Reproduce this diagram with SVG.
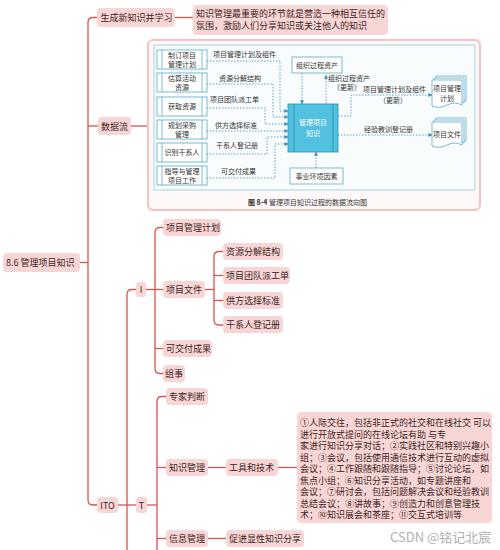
<svg xmlns="http://www.w3.org/2000/svg" width="500" height="550" viewBox="0 0 500 550">
<defs>
<style>
.n{fill:#f9d6d6;}
.t{font-family:"Noto Sans CJK SC","Noto Sans",sans-serif;font-size:9px;fill:#3b2424;}
.c{fill:none;stroke:#d9534f;stroke-width:1.3;}
.fb{fill:#fff;stroke:#5aaac8;stroke-width:0.8;}
.fl{stroke:#5aaac8;stroke-width:0.8;}
.ft{font-family:"Noto Sans CJK SC","Noto Sans",sans-serif;font-size:7px;fill:#333;}
.fm{text-anchor:middle;}
.d{fill:none;stroke:#3d8dbd;stroke-width:0.8;stroke-dasharray:1.5 1.5;}
.doc{fill:#fff;stroke:#5aaac8;stroke-width:0.8;}
</style>
<marker id="ah" viewBox="0 0 6 6" refX="5.5" refY="3" markerWidth="4" markerHeight="4" orient="auto" markerUnits="userSpaceOnUse">
<path d="M0,0 L6,3 L0,6 z" fill="#3d8dbd"/>
</marker>
</defs>
<rect width="500" height="550" fill="#fff"/>

<g id="connectors">
<path class="c" d="M80 262.5 H88"/>
<path class="c" d="M97 17.5 H93 Q88 17.5 88 22.5 V500 Q88 505 93 505 H97"/>
<path class="c" d="M88 126 H98"/>
<path class="c" d="M175 17.5 H193"/>
<path class="c" d="M131 126 H148"/>
<path class="c" d="M118 505 H136"/>
<path class="c" d="M136 289.5 H132 Q127 289.5 127 294.5 V550"/>
<path class="c" d="M146 289.5 H163"/>
<path class="c" d="M163 227.5 H160 Q155 227.5 155 232.5 V368.5 Q155 373.5 160 373.5 H163"/>
<path class="c" d="M155 348.5 H163"/>
<path class="c" d="M205 289.5 H214"/>
<path class="c" d="M223 251.5 H219 Q214 251.5 214 256.5 V320 Q214 325 219 325 H223"/>
<path class="c" d="M214 275.5 H223"/>
<path class="c" d="M214 300.5 H223"/>
<path class="c" d="M147 505 H157"/>
<path class="c" d="M166 396.5 H162 Q157 396.5 157 401.5 V550"/>
<path class="c" d="M157 467.5 H166"/>
<path class="c" d="M157 538.5 H166"/>
<path class="c" d="M208 467.5 H226"/>
<path class="c" d="M278 467.5 H297"/>
<path class="c" d="M208 538.5 H226"/>
</g>

<g id="root"><rect class="n" x="3" y="253" width="77" height="19" rx="4"/><text class="t" x="6" y="266">8.6 管理项目知识</text></g>
<g id="n-learn"><rect class="n" x="97" y="8" width="78" height="19" rx="4"/><text class="t" x="100.5" y="21">生成新知识并学习</text></g>
<g id="n-learn-note"><rect class="n" x="193" y="5" width="195" height="30" rx="4"/>
<text class="t" x="196" y="17">知识管理最重要的环节就是营造一种相互信任的</text>
<text class="t" x="196" y="29">氛围，激励人们分享知识或关注他人的知识</text></g>
<g id="n-dataflow"><rect class="n" x="98" y="117" width="33" height="18" rx="4"/><text class="t" x="101" y="129.5">数据流</text></g>

<g id="figure">
<rect x="148" y="40" width="332" height="170" rx="5" fill="#fff8f8" stroke="#f4c2c2" stroke-width="2"/>
<rect x="154" y="45" width="321" height="145" fill="#f8fcfd" stroke="#8cc8d8" stroke-width="0.8"/>
<g id="f-box1"><rect class="fb" x="157" y="50" width="50" height="19"/><line class="fl" x1="162" y1="50" x2="162" y2="69"/><line class="fl" x1="202" y1="50" x2="202" y2="69"/><text class="ft fm" x="182" y="58">制订项目</text><text class="ft fm" x="182" y="67">管理计划</text></g>
<g id="f-box2"><rect class="fb" x="157" y="73" width="50" height="19"/><line class="fl" x1="162" y1="73" x2="162" y2="92"/><line class="fl" x1="202" y1="73" x2="202" y2="92"/><text class="ft fm" x="182" y="81">估算活动</text><text class="ft fm" x="182" y="90">资源</text></g>
<g id="f-box3"><rect class="fb" x="157" y="97" width="50" height="19"/><line class="fl" x1="162" y1="97" x2="162" y2="116"/><line class="fl" x1="202" y1="97" x2="202" y2="116"/><text class="ft fm" x="182" y="109">获取资源</text></g>
<g id="f-box4"><rect class="fb" x="157" y="120" width="50" height="19"/><line class="fl" x1="162" y1="120" x2="162" y2="139"/><line class="fl" x1="202" y1="120" x2="202" y2="139"/><text class="ft fm" x="182" y="128">规划采购</text><text class="ft fm" x="182" y="137">管理</text></g>
<g id="f-box5"><rect class="fb" x="157" y="143" width="50" height="19"/><line class="fl" x1="162" y1="143" x2="162" y2="162"/><line class="fl" x1="202" y1="143" x2="202" y2="162"/><text class="ft fm" x="182" y="155">识别干系人</text></g>
<g id="f-box6"><rect class="fb" x="157" y="166" width="50" height="19"/><line class="fl" x1="162" y1="166" x2="162" y2="185"/><line class="fl" x1="202" y1="166" x2="202" y2="185"/><text class="ft fm" x="182" y="174">指导与管理</text><text class="ft fm" x="182" y="183">项目工作</text></g>

<g id="f-opa"><rect class="fb" x="292" y="57" width="50" height="16"/><text class="ft fm" x="317" y="67.5">组织过程资产</text></g>
<g id="f-eef"><rect class="fb" x="290" y="168" width="53" height="16"/><text class="ft fm" x="316.5" y="178.5">事业环境因素</text></g>
<g id="f-center"><rect x="288" y="104" width="50" height="48" fill="#52c0df" stroke="#2b8db3" stroke-width="0.8"/><line x1="294" y1="104" x2="294" y2="152" stroke="#2b8db3" stroke-width="0.8"/><line x1="333" y1="104" x2="333" y2="152" stroke="#2b8db3" stroke-width="0.8"/>
<text class="ft fm" x="313" y="125" style="fill:#fff">管理项目</text><text class="ft fm" x="313" y="136" style="fill:#fff">知识</text></g>

<g id="f-doc1">
<path class="doc" d="M436 76 H466 V101 Q458.5 97 451 101 Q443.5 105 436 102 Z"/>
<path class="doc" d="M434 78 H464 V103 Q456.5 99 449 103 Q441.5 107 434 104 Z"/>
<path class="doc" d="M432 80 H462 V105 Q454.5 101 447 105 Q439.5 109 432 106 Z"/>
<text class="ft fm" x="447" y="91">项目管理</text><text class="ft fm" x="447" y="101">计划</text></g>
<g id="f-doc2">
<path class="doc" d="M436 118 H466 V141 Q458.5 137 451 141 Q443.5 145 436 142 Z"/>
<path class="doc" d="M434 120 H464 V143 Q456.5 139 449 143 Q441.5 147 434 144 Z"/>
<path class="doc" d="M432 122 H462 V145 Q454.5 141 447 145 Q439.5 149 432 146 Z"/>
<text class="ft fm" x="447" y="137">项目文件</text></g>

<g id="f-lines">
<path class="d" marker-end="url(#ah)" d="M207 61 H280 V111 H288"/>
<path class="d" marker-end="url(#ah)" d="M207 84 H273 V117 H288"/>
<path class="d" marker-end="url(#ah)" d="M207 108 H265 V124 H288"/>
<path class="d" marker-end="url(#ah)" d="M207 131 H288"/>
<path class="d" marker-end="url(#ah)" d="M207 154 H267 V137 H288"/>
<path class="d" marker-end="url(#ah)" d="M207 178 H275 V144 H288"/>
<path class="d" marker-end="url(#ah)" d="M302 73 V104"/>
<path class="d" marker-end="url(#ah)" d="M326 104 V75"/>
<path class="d" marker-end="url(#ah)" d="M316 168 V152"/>
<path class="d" marker-end="url(#ah)" d="M338 116 H351 V95 H432"/>
<path class="d" marker-end="url(#ah)" d="M338 135 H432"/>
</g>
<g id="f-labels">
<text class="ft" x="213" y="56.5">项目管理计划及组件</text>
<text class="ft" x="219" y="80.5">资源分解结构</text>
<text class="ft" x="210" y="101.5">项目团队派工单</text>
<text class="ft" x="215" y="127.5">供方选择标准</text>
<text class="ft" x="216" y="147.5">干系人登记册</text>
<text class="ft" x="221" y="173.5">可交付成果</text>
<text class="ft" x="328" y="80.5">组织过程资产</text>
<text class="ft" x="333" y="90">（更新）</text>
<text class="ft" x="363" y="92">项目管理计划及组件</text>
<text class="ft" x="379" y="102.5">（更新）</text>
<text class="ft" x="364" y="131.5">经验教训登记册</text>
<text class="ft" x="248" y="204.5"><tspan font-weight="bold">图 8-4</tspan>   管理项目知识过程的数据流向图</text>
</g>
</g>

<g id="n-ito"><rect class="n" x="97" y="497" width="21" height="16" rx="4"/><text class="t fm" x="107.5" y="508.5">ITO</text></g>
<g id="n-i"><rect class="n" x="136" y="282" width="10" height="15" rx="3"/><text class="t fm" x="141" y="293">I</text></g>
<g id="n-t"><rect class="n" x="136" y="497" width="11" height="16" rx="3"/><text class="t fm" x="141.5" y="508.5">T</text></g>
<g id="n-pmp"><rect class="n" x="163" y="219" width="58" height="17" rx="4"/><text class="t" x="166" y="231">项目管理计划</text></g>
<g id="n-pdocs"><rect class="n" x="163" y="281" width="42" height="17" rx="4"/><text class="t" x="166" y="293">项目文件</text></g>
<g id="n-deliv"><rect class="n" x="163" y="340" width="49" height="17" rx="4"/><text class="t" x="166" y="352">可交付成果</text></g>
<g id="n-org"><rect class="n" x="163" y="365" width="22" height="17" rx="4"/><text class="t" x="165" y="377">组事</text></g>
<g id="n-rbs"><rect class="n" x="223" y="243" width="60" height="17" rx="4"/><text class="t" x="226" y="255">资源分解结构</text></g>
<g id="n-team"><rect class="n" x="223" y="267" width="67" height="17" rx="4"/><text class="t" x="226" y="279">项目团队派工单</text></g>
<g id="n-seller"><rect class="n" x="223" y="292" width="60" height="17" rx="4"/><text class="t" x="226" y="304">供方选择标准</text></g>
<g id="n-stake"><rect class="n" x="223" y="316" width="60" height="17" rx="4"/><text class="t" x="226" y="328">干系人登记册</text></g>
<g id="n-expert"><rect class="n" x="166" y="388" width="42" height="17" rx="4"/><text class="t" x="169" y="400">专家判断</text></g>
<g id="n-km"><rect class="n" x="166" y="459" width="42" height="17" rx="4"/><text class="t" x="169" y="471">知识管理</text></g>
<g id="n-tools"><rect class="n" x="226" y="459" width="52" height="17" rx="4"/><text class="t" x="229" y="471">工具和技术</text></g>
<g id="n-tools-note"><rect class="n" x="297" y="412" width="195" height="111" rx="4"/>
<text class="t" x="300" y="426">①人际交往，包括非正式的社交和在线社交 可以</text>
<text class="t" x="300" y="437.5">进行开放式提问的在线论坛有助 与专</text>
<text class="t" x="300" y="449">家进行知识分享对话；②实践社区和特别兴趣小</text>
<text class="t" x="300" y="460.5">组；③会议，包括使用通信技术进行互动的虚拟</text>
<text class="t" x="300" y="472">会议；④工作跟随和跟随指导；⑤讨论论坛，如</text>
<text class="t" x="300" y="483.5">焦点小组；⑥知识分享活动，如专题讲座和</text>
<text class="t" x="300" y="495">会议；⑦研讨会，包括问题解决会议和经验教训</text>
<text class="t" x="300" y="506.5">总结会议；⑧讲故事；⑨创造力和创意管理技</text>
<text class="t" x="300" y="518">术；⑩知识展会和茶座；⑪交互式培训等</text></g>
<g id="n-im"><rect class="n" x="166" y="530" width="42" height="17" rx="4"/><text class="t" x="169" y="542">信息管理</text></g>
<g id="n-share"><rect class="n" x="226" y="530" width="78" height="17" rx="4"/><text class="t" x="229" y="542">促进显性知识分享</text></g>

<text x="390" y="542" font-family="'Noto Sans CJK SC','Noto Sans',sans-serif" font-size="13" fill="#b0b0b0">CSDN @铭记北宸</text>
</svg>
